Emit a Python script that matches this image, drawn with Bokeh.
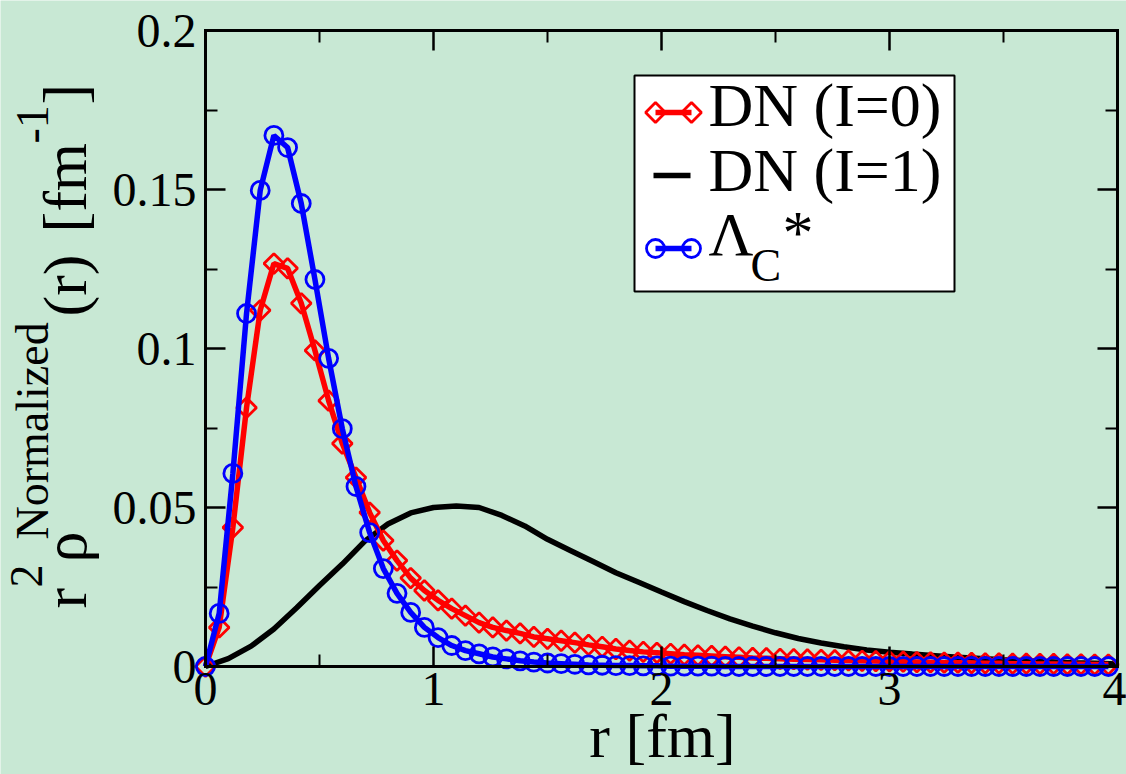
from math import pi
from bokeh.plotting import figure
from bokeh.models import LinearAxis, FixedTicker, Label, Range1d
from bokeh.embed import file_html
from bokeh.resources import INLINE

# ---------------- data ----------------
r_pts = [0.00, 0.06, 0.12, 0.18, 0.24, 0.30, 0.36, 0.42, 0.48, 0.54,
         0.60, 0.66, 0.72, 0.78, 0.84, 0.90, 0.96, 1.02, 1.08, 1.14,
         1.20, 1.26, 1.32, 1.38, 1.44, 1.50, 1.56, 1.62, 1.68, 1.74,
         1.80, 1.86, 1.92, 1.98, 2.04, 2.10, 2.16, 2.22, 2.28, 2.34,
         2.40, 2.46, 2.52, 2.58, 2.64, 2.70, 2.76, 2.82, 2.88, 2.94,
         3.00, 3.06, 3.12, 3.18, 3.24, 3.30, 3.36, 3.42, 3.48, 3.54,
         3.60, 3.66, 3.72, 3.78, 3.84, 3.90, 3.96]

dn_i0 = [0.0, 0.0123, 0.0437, 0.0814, 0.1120, 0.1267, 0.1252, 0.1142, 0.0994, 0.0836,
         0.0701, 0.0594, 0.0484, 0.0396, 0.0333, 0.0278, 0.0239, 0.0208, 0.0182, 0.0160,
         0.0138, 0.0123, 0.0113, 0.0104, 0.0093, 0.0087, 0.0081, 0.0075, 0.0068, 0.0062,
         0.0055, 0.0050, 0.0046, 0.0043, 0.0040, 0.0037, 0.0035, 0.0033, 0.0031, 0.0029,
         0.0027, 0.0026, 0.0024, 0.0023, 0.0022, 0.0021, 0.0020, 0.0019, 0.0018, 0.0017,
         0.0016, 0.0015, 0.0014, 0.0013, 0.0012, 0.0012, 0.0011, 0.0010, 0.0010, 0.0009,
         0.0009, 0.0008, 0.0008, 0.0007, 0.0007, 0.0006, 0.0006]

lambda_c = [0.0, 0.0167, 0.0607, 0.1110, 0.1497, 0.1670, 0.1632, 0.1456, 0.1217, 0.0969,
            0.0748, 0.0566, 0.0421, 0.0308, 0.0230, 0.0170, 0.0123, 0.0091, 0.0066, 0.0050,
            0.0040, 0.0030, 0.0024, 0.0018, 0.0014, 0.0011, 0.0009, 0.0007, 0.0005, 0.0004,
            0.0003, 0.0003, 0.0002, 0.0002, 0.0001, 0.0001, 0.0001, 0.0001, 0.0, 0.0,
            0.0, 0.0, 0.0, 0.0, 0.0, 0.0, 0.0, 0.0, 0.0, 0.0,
            0.0, 0.0, 0.0, 0.0, 0.0, 0.0, 0.0, 0.0, 0.0, 0.0,
            0.0, 0.0, 0.0, 0.0, 0.0, 0.0, 0.0]

r_line = [0.0, 0.1, 0.2, 0.3, 0.4, 0.5, 0.6, 0.7, 0.8, 0.9,
          1.0, 1.1, 1.2, 1.3, 1.4, 1.5, 1.6, 1.7, 1.8, 1.9,
          2.0, 2.1, 2.2, 2.3, 2.4, 2.5, 2.6, 2.7, 2.8, 2.9,
          3.0, 3.1, 3.2, 3.3, 3.4, 3.5, 3.6, 3.7, 3.8, 3.9, 4.0]
dn_i1 = [0.0, 0.0025, 0.0064, 0.0118, 0.0185, 0.0255, 0.0322, 0.0395, 0.0448, 0.0483,
         0.0500, 0.0505, 0.0500, 0.0475, 0.0442, 0.0400, 0.0365, 0.0330, 0.0295, 0.0265,
         0.0234, 0.0204, 0.0176, 0.0150, 0.0127, 0.0106, 0.0088, 0.0074, 0.0062, 0.0052,
         0.0045, 0.0039, 0.0034, 0.0029, 0.0025, 0.0021, 0.0018, 0.0015, 0.0012, 0.0010, 0.0008]

x_ticks = [0, 1, 2, 3, 4]
x_minor = [0.5, 1.5, 2.5, 3.5]
x_labels = ["0", "1", "2", "3", "4"]
y_ticks = [0, 0.05, 0.1, 0.15, 0.2]
y_minor = [0.025, 0.075, 0.125, 0.175]
y_labels = ["0", "0.05", "0.1", "0.15", "0.2"]
X_LIM = (0, 4)
Y_LIM = (0, 0.2)

# ---------------- style / layout ----------------
BG = "#c8e8d4"
SERIF = "Liberation Serif"
RED = "#ff0000"
BLUE = "#0000ff"
LW = 5.5
CIRC = 18
DIAM = 14
MLW = 2.8
W, H = 1126, 774
# plot box occupies canvas pixels x 205..1117, y 30..666
BOX_L, BOX_R, BOX_T, BOX_B = 205, 1117, 30, 666
sx = (BOX_R - BOX_L) / (X_LIM[1] - X_LIM[0])
sy = (BOX_B - BOX_T) / (Y_LIM[1] - Y_LIM[0])


def px2x(px):
    return X_LIM[0] + (px - BOX_L) / sx


def py2y(py):
    return Y_LIM[0] + (BOX_B - py) / sy


p = figure(width=W, height=H,
           x_range=Range1d(px2x(0), px2x(W)), y_range=Range1d(py2y(H), py2y(0)),
           output_backend="svg", toolbar_location=None, min_border=0)
p.background_fill_color = BG
p.border_fill_color = BG
p.outline_line_color = None
p.grid.visible = False


def style_axis(ax, ticks, minor, loc, bounds, show_labels):
    ax.ticker = FixedTicker(ticks=ticks, minor_ticks=minor)
    ax.fixed_location = loc
    ax.bounds = bounds
    ax.axis_line_width = 3
    ax.axis_line_cap = "square"
    ax.major_tick_in = 20
    ax.major_tick_out = 0
    ax.minor_tick_in = 12
    ax.minor_tick_out = 0
    ax.major_tick_line_width = 2.5
    ax.minor_tick_line_width = 2
    ax.major_label_text_font = SERIF
    ax.major_label_text_font_size = "48px"
    ax.major_label_text_color = "black"
    if not show_labels:
        ax.major_label_text_font_size = "0px"
        ax.major_label_text_alpha = 0
        ax.major_label_standoff = 0


xa = p.xaxis[0]
style_axis(xa, x_ticks, x_minor, Y_LIM[0], X_LIM, True)
xa.major_label_overrides = {t: l for t, l in zip(x_ticks, x_labels)}
xa.major_label_standoff = 6

ya = p.yaxis[0]
style_axis(ya, y_ticks, y_minor, X_LIM[0], Y_LIM, True)
ya.major_label_overrides = {t: l for t, l in zip(y_ticks, y_labels)}
ya.major_label_standoff = 9

ax_r = LinearAxis()
style_axis(ax_r, y_ticks, y_minor, X_LIM[1], Y_LIM, False)
ax_r.major_label_overrides = {t: "" for t in y_ticks}
p.add_layout(ax_r, "right")
ax_t = LinearAxis()
style_axis(ax_t, x_ticks, x_minor, Y_LIM[1], X_LIM, False)
ax_t.major_label_overrides = {t: "" for t in x_ticks}
p.add_layout(ax_t, "above")

# ---------------- curves ----------------
p.line(r_line, dn_i1, line_color="black", line_width=LW)
p.scatter(r_pts, dn_i0, marker="square", angle=pi / 4, size=DIAM, fill_color=None,
          line_color=RED, line_width=MLW)
p.line(r_pts, dn_i0, line_color=RED, line_width=LW)
p.scatter(r_pts, lambda_c, marker="circle", size=CIRC, fill_color=None,
          line_color=BLUE, line_width=MLW)
p.line(r_pts, lambda_c, line_color=BLUE, line_width=LW)

# ---------------- legend (drawn by hand) ----------------
p.quad(left=[px2x(634)], right=[px2x(954)], bottom=[py2y(291)], top=[py2y(75)],
       fill_color="white", line_color="black", line_width=2)
lx1, lx2 = px2x(655), px2x(691)
p.line([lx1, lx2], [py2y(112)] * 2, line_color=RED, line_width=LW)
p.scatter([lx1, lx2], [py2y(112)] * 2, marker="square", angle=pi / 4, size=DIAM,
          fill_color=None, line_color=RED, line_width=MLW)
p.line([px2x(653), px2x(690)], [py2y(175)] * 2, line_color="black", line_width=LW)
p.line([lx1, lx2], [py2y(248)] * 2, line_color=BLUE, line_width=LW)
p.scatter([lx1, lx2], [py2y(248)] * 2, marker="circle", size=CIRC,
          fill_color=None, line_color=BLUE, line_width=MLW)

SHIFT = 0.38  # Bokeh places the alphabetic baseline ~0.38em below the anchor


def lab(text, cx, cy, size, rotated=False, align="left"):
    """cx, cy: wanted baseline start in canvas pixels."""
    fs = float(size)
    if rotated:
        ax_, ay_, ang = cx - SHIFT * fs, cy, pi / 2
    else:
        ax_, ay_, ang = cx, cy - SHIFT * fs, 0.0
    p.add_layout(Label(x=px2x(ax_), y=py2y(ay_), text=text,
                       text_font=SERIF, text_font_size=f"{size}px", text_color="black",
                       angle=ang, text_align=align, text_baseline="alphabetic"))


lab("DN (I=0)", 708, 128, 62)
lab("DN (I=1)", 708, 193, 62)
lab("\u039b", 708, 257, 62)
lab("C", 750, 282, 46)
lab("*", 782, 255, 62)

# ---------------- axis titles ----------------
lab("r [fm]", 662, 759, 62, align="center")

lab("r", 88, 608, 62, rotated=True)
lab("2", 43, 587, 46, rotated=True)
lab("\u03c1", 88, 562, 62, rotated=True)
lab("Normalized", 49, 539, 46, rotated=True)
lab("(r)", 88, 316, 62, rotated=True)
lab("[fm", 88, 232, 62, rotated=True)
lab("-1", 49, 143, 46, rotated=True)
lab("]", 88, 104, 62, rotated=True)

open("out.html", "w").write(file_html(p, INLINE))
